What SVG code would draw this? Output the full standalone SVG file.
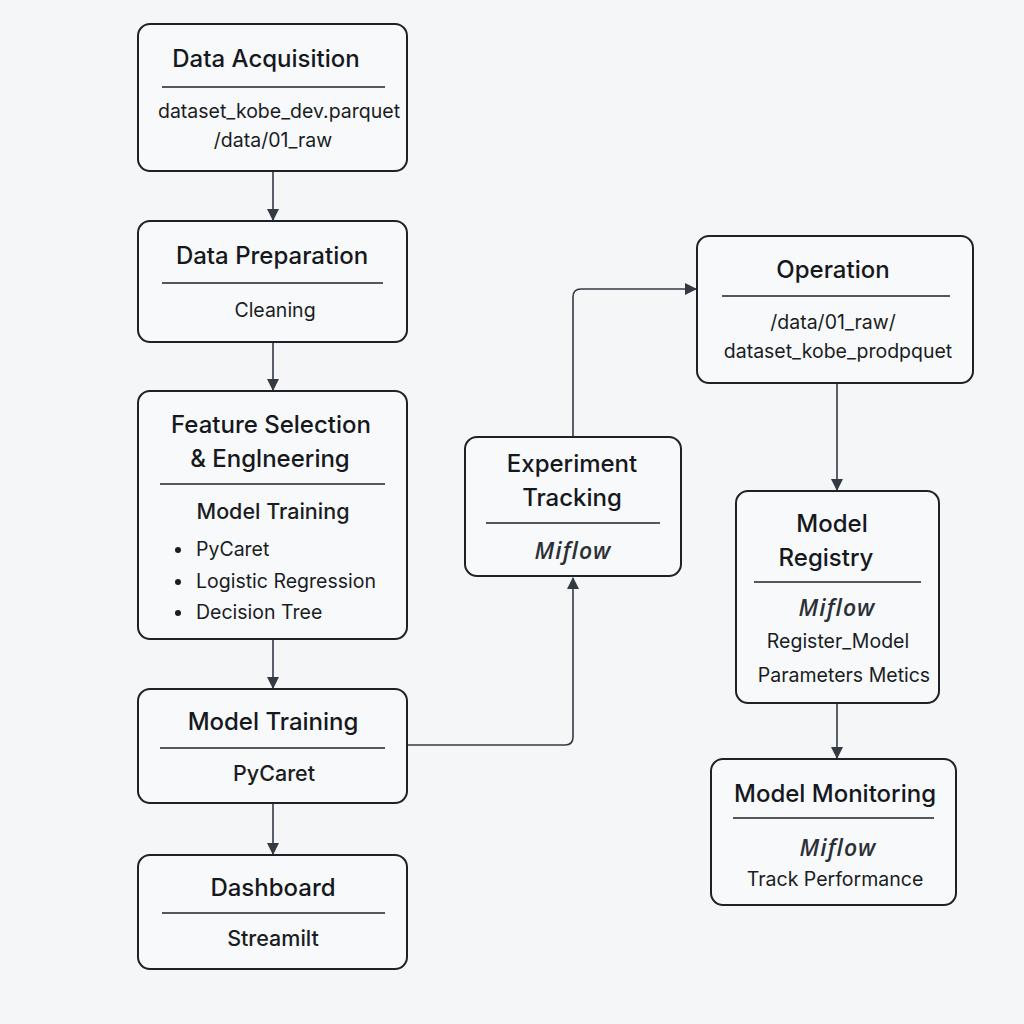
<svg xmlns="http://www.w3.org/2000/svg" width="1024" height="1024" viewBox="0 0 1024 1024">
<defs>
<marker id="arr" markerWidth="12" markerHeight="12" refX="11" refY="6" orient="auto" markerUnits="userSpaceOnUse">
<path d="M0,0 L12,6 L0,12 Z" fill="#333a44"/>
</marker>
<style>
.box{fill:#f8f9fa;stroke:#1e2228;stroke-width:2}
.sep{stroke:#1e2228;stroke-width:1.5}
.t{font-family:Inter,"Noto Sans","Liberation Sans",sans-serif;font-size:24px;font-weight:500;fill:#15181d;text-anchor:middle}
.b{font-family:Inter,"Noto Sans","Liberation Sans",sans-serif;font-size:19.5px;font-weight:400;fill:#1a1d23;text-anchor:middle}
.m{font-family:Inter,"Noto Sans","Liberation Sans",sans-serif;font-size:21.5px;font-weight:500;fill:#1a1d23;text-anchor:middle}
.l{font-family:Inter,"Noto Sans","Liberation Sans",sans-serif;font-size:19.5px;font-weight:400;fill:#1a1d23}
.i{font-family:"Open Sans",Inter,"Liberation Sans",sans-serif;font-size:23px;font-style:italic;font-weight:600;fill:#2b3038;text-anchor:middle;letter-spacing:1px}
.c{fill:none;stroke:#333a44;stroke-width:1.6}
</style>
</defs>
<rect width="1024" height="1024" fill="#f5f6f8"/>
<g id="connectors">
<path class="c" d="M273,171 V220" marker-end="url(#arr)"/>
<path class="c" d="M273,342 V390" marker-end="url(#arr)"/>
<path class="c" d="M273,639 V688" marker-end="url(#arr)"/>
<path class="c" d="M273,803 V854" marker-end="url(#arr)"/>
<path class="c" d="M407,745 H565 Q573,745 573,737 V578" marker-end="url(#arr)"/>
<path class="c" d="M573,437 V297 Q573,289 581,289 H696" marker-end="url(#arr)"/>
<path class="c" d="M837,383 V490" marker-end="url(#arr)"/>
<path class="c" d="M837,703 V758" marker-end="url(#arr)"/>
</g>
<g id="data-acquisition">
<rect class="box" x="138" y="24" width="269" height="147" rx="12"/>
<text class="t" x="266" y="67">Data Acquisition</text>
<line class="sep" x1="162" y1="87" x2="385" y2="87"/>
<text class="b" x="279" y="118">dataset_kobe_dev.parquet</text>
<text class="b" x="273" y="147">/data/01_raw</text>
</g>
<g id="data-preparation">
<rect class="box" x="138" y="221" width="269" height="121" rx="12"/>
<text class="t" x="272" y="264">Data Preparation</text>
<line class="sep" x1="162" y1="283" x2="383" y2="283"/>
<text class="b" x="275" y="317">Cleaning</text>
</g>
<g id="feature-selection">
<rect class="box" x="138" y="391" width="269" height="248" rx="12"/>
<text class="t" x="271" y="433">Feature Selection</text>
<text class="t" x="270" y="467">&amp; Englneering</text>
<line class="sep" x1="160" y1="484" x2="385" y2="484"/>
<text class="m" x="273" y="519">Model Training</text>
<circle cx="178" cy="550" r="3" fill="#1a1d23"/>
<circle cx="178" cy="582" r="3" fill="#1a1d23"/>
<circle cx="178" cy="613" r="3" fill="#1a1d23"/>
<text class="l" x="196" y="556">PyCaret</text>
<text class="l" x="196" y="588">Logistic Regression</text>
<text class="l" x="196" y="619">Decision Tree</text>
</g>
<g id="model-training">
<rect class="box" x="138" y="689" width="269" height="114" rx="12"/>
<text class="t" x="273" y="730">Model Training</text>
<line class="sep" x1="160" y1="748" x2="385" y2="748"/>
<text class="m" x="274" y="781">PyCaret</text>
</g>
<g id="dashboard">
<rect class="box" x="138" y="855" width="269" height="114" rx="12"/>
<text class="t" x="273" y="896">Dashboard</text>
<line class="sep" x1="162" y1="913" x2="385" y2="913"/>
<text class="m" x="273" y="946" font-weight="600">Streamilt</text>
</g>
<g id="experiment-tracking">
<rect class="box" x="465" y="437" width="216" height="139" rx="12"/>
<text class="t" x="572" y="472">Experiment</text>
<text class="t" x="572" y="506">Tracking</text>
<line class="sep" x1="486" y1="523" x2="660" y2="523"/>
<text class="i" x="573" y="559">Miflow</text>
</g>
<g id="operation">
<rect class="box" x="697" y="236" width="276" height="147" rx="12"/>
<text class="t" x="833" y="278">Operation</text>
<line class="sep" x1="722" y1="296" x2="950" y2="296"/>
<text class="b" x="833" y="329">/data/01_raw/</text>
<text class="b" x="838" y="358">dataset_kobe_prodpquet</text>
</g>
<g id="model-registry">
<rect class="box" x="736" y="491" width="203" height="212" rx="12"/>
<text class="t" x="832" y="532">Model</text>
<text class="t" x="826" y="566">Registry</text>
<line class="sep" x1="754" y1="582" x2="921" y2="582"/>
<text class="i" x="837" y="616">Miflow</text>
<text class="b" x="838" y="648">Register_Model</text>
<text class="b" x="844" y="682">Parameters Metics</text>
</g>
<g id="model-monitoring">
<rect class="box" x="711" y="759" width="245" height="146" rx="12"/>
<text class="t" x="835" y="802">Model Monitoring</text>
<line class="sep" x1="733" y1="818" x2="934" y2="818"/>
<text class="i" x="838" y="856">Miflow</text>
<text class="b" x="835" y="886">Track Performance</text>
</g>
</svg>
